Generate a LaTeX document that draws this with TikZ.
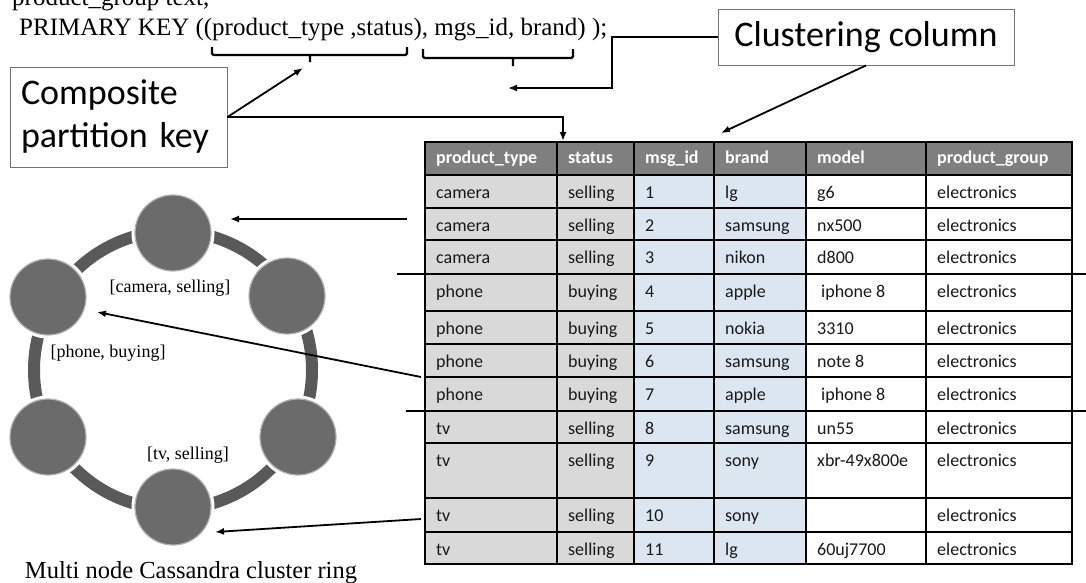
\documentclass[tikz,border=0pt]{standalone}
\usepackage{fontspec}
\setmainfont{Liberation Serif}
\newfontfamily\calibri{Carlito}
\usetikzlibrary{arrows.meta,positioning}
\definecolor{hdrgray}{HTML}{7F7F7F}
\definecolor{keygray}{HTML}{D9D9D9}
\definecolor{clublue}{HTML}{DCE6F1}
\definecolor{nodegray}{HTML}{6B6B6B}
\definecolor{arcgray}{HTML}{595959}
\tikzset{
  arr/.style={line width=1.8pt,-{Latex[length=9pt,width=7pt]}},
  brace/.style={line width=2.4pt,rounded corners=1.5pt},
  labelbox/.style={draw=black!55,line width=0.9pt,font=\calibri\fontsize{36}{43}\selectfont},
  cell/.style={anchor=base west,inner sep=0pt,text=black!90,font=\calibri\fontsize{18}{20}\selectfont},
  head/.style={cell,text=white,font=\calibri\bfseries\fontsize{18}{20}\selectfont},
  ringnode/.style={circle,fill=nodegray,draw=black!30,line width=1.2pt,minimum size=76pt,inner sep=0pt,
    preaction={draw=white,line width=7pt}},
  ringlab/.style={inner sep=0pt,font=\fontsize{18}{20}\selectfont},
  codeline/.style={anchor=base west,inner sep=0pt,font=\fontsize{25}{29}\selectfont},
}
\begin{document}
\begin{tikzpicture}[x=1pt,y=-1pt]
        \clip (0,0) rectangle (1086,582);
        \fill[white] (0,0) rectangle (1086,582);
        %codice
        \node[codeline] (grpline) at (12,5) {product\_group text,};
        \node[codeline] (keyline) at (19,35) {PRIMARY KEY ((product\_type ,status), mgs\_id, brand) );};
        \draw[brace] (212,47) -- (212,55) -- (407,55) -- (407,47) (310,55) -- (310,62);
        \draw[brace] (423,49) -- (423,58) -- (573,58) -- (573,49) (513,58) -- (513,66);
        %etichette
        \node[labelbox,align=left,text width=195pt,inner xsep=11pt,minimum height=100pt] (compbox) at (118.5,117)
          {Composite\\partition key};
        \node[labelbox,minimum width=296pt,minimum height=56pt] (clubox) at (866,37) {Clustering column};
        \coordinate (pkhead) at (303,68);
        \coordinate (stathead) at (563,141);
        \coordinate (ckbend) at (612,88);
        \coordinate (ckhead) at (508,88);
        \coordinate (idhead) at (721,133);
        \draw[arr] (compbox.east) -- (pkhead);
        \draw[arr] (compbox.east) -| (stathead);
        \draw[arr] (clubox.west) -| (ckbend) -- (ckhead);
        \draw[arr] (clubox.south) -- (idhead);
        %tabella
        \fill[keygray] (425,175) rectangle (634,564);
        \fill[clublue] (634,175) rectangle (806,564);
        \fill[hdrgray] (425,142) rectangle (1072,175);
        \foreach \y in {175,208,240,311,344,377,443,498,532}
          \draw[line width=1.1pt] (425,\y) -- (1072,\y);
        \foreach \x in {557,634,714,806,926}
          \draw[line width=1.1pt] (\x,142) -- (\x,564);
        \draw[line width=1.1pt] (425,142) rectangle (1072,564);
        \draw[line width=2.6pt] (397,274) -- (1086,274);
        \draw[line width=2.6pt] (406,411) -- (1086,411);
        \foreach \x/\t [count=\c] in {436/product\_type,568/status,645/msg\_id,725/brand,817/model,937/product\_group}
          \node[head] (h\c) at (\x,163.5) {\t};
        \foreach \y/\pt/\st/\id/\br/\mo [count=\r] in {
            175/camera/selling/1/lg/g6,
            208/camera/selling/2/samsung/nx500,
            240/camera/selling/3/nikon/d800,
            274/phone/buying/4/apple/{\hspace{4pt}iphone 8},
            311/phone/buying/5/nokia/3310,
            344/phone/buying/6/samsung/note 8,
            377/phone/buying/7/apple/{\hspace{4pt}iphone 8},
            411/tv/selling/8/samsung/un55,
            443/tv/selling/9/sony/xbr-49x800e,
            498/tv/selling/10/sony/{},
            532/tv/selling/11/lg/60uj7700}{
          \node[cell] (pt\r) at (436,{\y+23}) {\pt};
          \node[cell] (st\r) at (568,{\y+23}) {\st};
          \node[cell] (id\r) at (645,{\y+23}) {\id};
          \node[cell] (br\r) at (725,{\y+23}) {\br};
          \node[cell] (mo\r) at (817,{\y+23}) {\mo};
          \node[cell] (pg\r) at (937,{\y+23}) {electronics};
        }
        %anello
        \coordinate (ringc) at (173,370);
        \draw[arcgray,line width=12pt] (ringc) circle[radius=139];
        \node[ringnode] (ringtop) at (173,233) {};
        \node[ringnode] (ringur) at (287,296) {};
        \node[ringnode] (ringlr) at (298,437) {};
        \node[ringnode] (ringbot) at (173,507) {};
        \node[ringnode] (ringll) at (48,437) {};
        \node[ringnode] (ringul) at (48,297) {};
        \node[ringlab] (camlab) at (170,288) {[camera, selling]};
        \node[ringlab] (phonelab) at (108,353) {[phone, buying]};
        \node[ringlab] (tvlab) at (188,455) {[tv, selling]};
        \node[anchor=base,inner sep=0pt,font=\fontsize{24.5}{28}\selectfont] (caption) at (191,578)
          {Multi node Cassandra cluster ring};
        \coordinate (camtail) at (407,219);
        \coordinate (phonetail) at (421,377);
        \coordinate (tvtail) at (421,519);
        \path (ringtop) ++(57,-14) coordinate (camhead);
        \path (ringul) ++(49,15) coordinate (phonehead);
        \path (ringbot) ++(42,25) coordinate (tvhead);
        \draw[arr] (camtail) -- (camhead);
        \draw[arr] (phonetail) -- (phonehead);
        \draw[arr] (tvtail) -- (tvhead);
\end{tikzpicture}
\end{document}
